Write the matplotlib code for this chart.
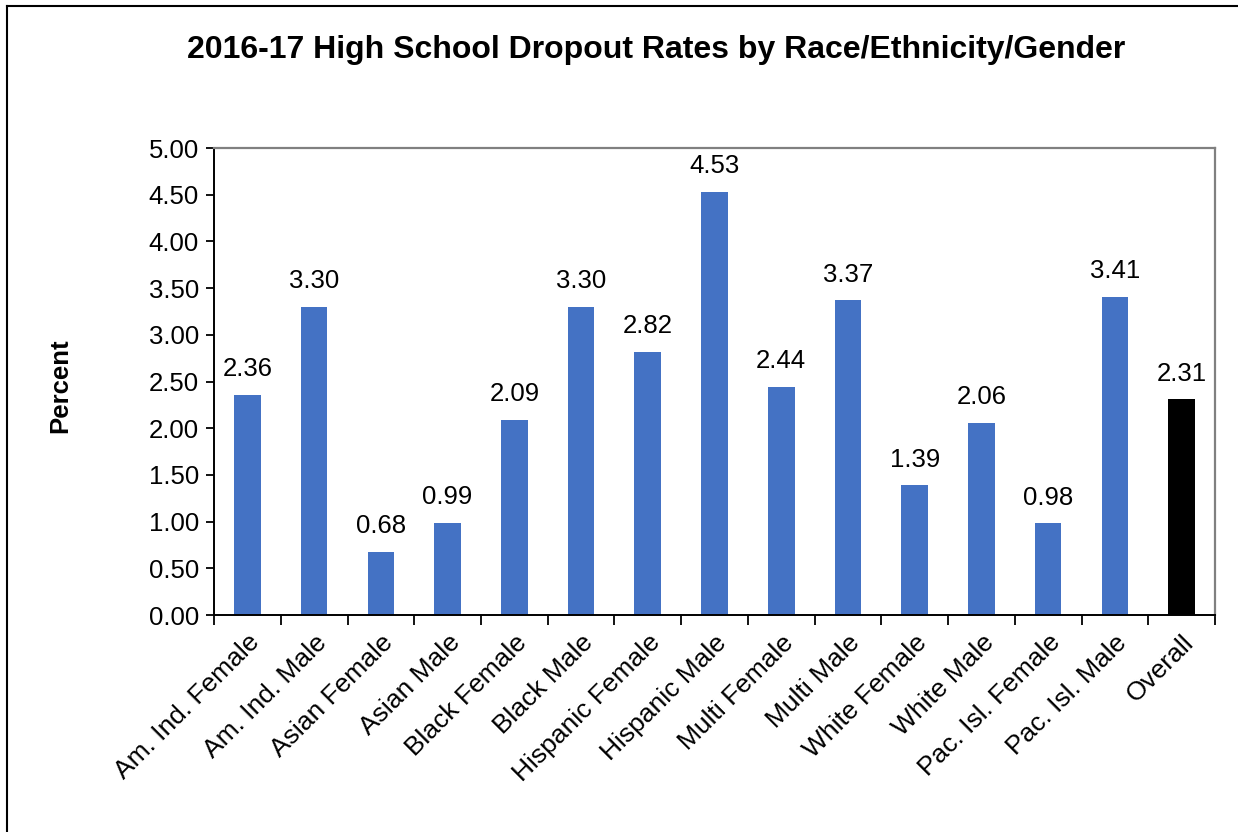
import matplotlib
matplotlib.use("Agg")
import matplotlib.pyplot as plt
from matplotlib.lines import Line2D

plt.rcParams['font.family'] = ['Liberation Sans', 'DejaVu Sans']

categories = [
    "Am. Ind. Female", "Am. Ind. Male", "Asian Female", "Asian Male",
    "Black Female", "Black Male", "Hispanic Female", "Hispanic Male",
    "Multi Female", "Multi Male", "White Female", "White Male",
    "Pac. Isl. Female", "Pac. Isl. Male", "Overall",
]
rates = [2.36, 3.30, 0.68, 0.99, 2.09, 3.30, 2.82, 4.53,
         2.44, 3.37, 1.39, 2.06, 0.98, 3.41, 2.31]
yticks = [0.0, 0.5, 1.0, 1.5, 2.0, 2.5, 3.0, 3.5, 4.0, 4.5, 5.0]

blue = "#4472C4"
colors = [blue] * (len(rates) - 1) + ["black"]

fig = plt.figure(figsize=(12.38, 8.32), dpi=100)
ax = fig.add_axes([0.1729, 0.2608, 0.8085, 0.5613])

x = list(range(len(categories)))
ax.bar(x, rates, width=0.4, color=colors)

for xi, v in zip(x, rates):
    ax.text(xi, v + 0.2, f"{v:.2f}", ha="center", va="baseline", fontsize=18.5)

ax.set_xlim(-0.5, len(categories) - 0.5)
ax.set_ylim(0, 5)
ax.set_yticks(yticks)
ax.set_yticklabels([f"{t:.2f}" for t in yticks], fontsize=18.5)

# category labels between boundary ticks, like excel
ax.set_xticks(x)
ax.set_xticklabels(categories, rotation=45, ha="right", rotation_mode="anchor", fontsize=19)
ax.tick_params(axis="x", which="major", length=0, pad=11)
ax.set_xticks([i - 0.5 for i in range(len(categories) + 1)], minor=True)
ax.tick_params(axis="x", which="minor", length=7, width=1.3, direction="out", color="black")
ax.tick_params(axis="y", length=6, width=1.3, color="black", pad=5)

for side in ["left", "bottom"]:
    ax.spines[side].set_color("black")
    ax.spines[side].set_linewidth(1.4)
for side in ["top", "right"]:
    ax.spines[side].set_color("#808080")
    ax.spines[side].set_linewidth(1.6)

fig.text(0.53, 0.94, "2016-17 High School Dropout Rates by Race/Ethnicity/Gender",
         ha="center", va="center", fontsize=23, fontweight="bold")
fig.text(0.0485, 0.537, "Percent", rotation=90, ha="center", va="center",
         fontsize=18.5, fontweight="bold")

# outer frame (left and top edges only visible)
fig.add_artist(Line2D([0.0053, 0.0053], [0.0, 0.9928], color="black", lw=1.5, transform=fig.transFigure))
fig.add_artist(Line2D([0.0053, 1.0], [0.9928, 0.9928], color="black", lw=1.5, transform=fig.transFigure))

fig.savefig("out.png", dpi=100)
